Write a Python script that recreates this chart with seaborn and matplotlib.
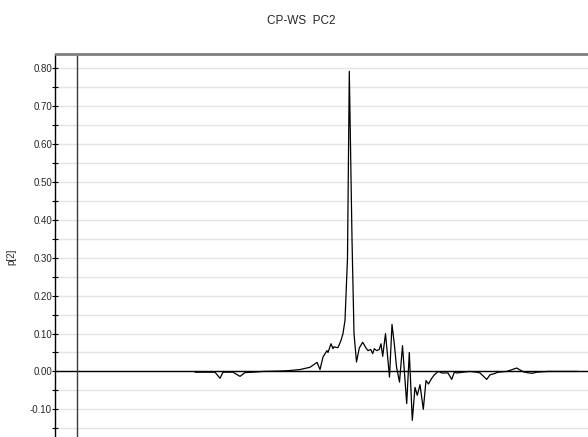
import matplotlib
matplotlib.use("Agg")
import matplotlib.pyplot as plt
import pandas as pd
import seaborn as sns
from matplotlib.ticker import MultipleLocator, FormatStrFormatter

# Loading profile of the second principal component (p[2]) per variable
var_index = [118, 128, 138, 143, 146, 156, 163, 168, 176, 186, 203, 211,
             223, 233, 240, 243, 246, 250, 251, 254, 256, 257, 260, 261,
             264, 266, 268, 270.5, 272.3, 275, 277, 279.5, 282.3, 285.7,
             289, 291, 293.7, 295.7, 297.3, 299.7, 302.3, 304, 305.7, 308.5,
             312.5, 315, 317.3, 319.5, 322.5, 325.5, 329.7, 332.3, 335.3,
             338, 340.3, 343, 346.3, 349, 351.5, 354.5, 357, 359, 361.3,
             365, 371, 374.7, 377.3, 380, 386, 393, 399.7, 403, 409.7,
             413, 417, 421, 429.7, 439.7, 446.3, 449.7, 455.3, 459.7, 465,
             471.3, 478, 486, 493, 501]

p2 = [-0.002, -0.002, -0.002, -0.018, -0.002, -0.002, -0.013, -0.003,
      -0.002, 0.000, 0.001, 0.002, 0.005, 0.011, 0.024, 0.005, 0.038,
      0.055, 0.050, 0.073, 0.060, 0.065, 0.063, 0.063, 0.082, 0.100,
      0.135, 0.300, 0.792, 0.350, 0.100, 0.025, 0.062, 0.077, 0.062,
      0.055, 0.058, 0.047, 0.060, 0.055, 0.058, 0.073, 0.040, 0.100,
      -0.015, 0.124, 0.073, 0.012, -0.028, 0.068, -0.085, 0.050, -0.129,
      -0.042, -0.063, -0.035, -0.100, -0.024, -0.033, -0.019, -0.010,
      -0.005, 0.000, -0.004, -0.004, -0.021, -0.002, -0.004, -0.002,
      0.000, -0.002, -0.004, -0.021, -0.009, -0.006, -0.002, 0.000,
      0.009, -0.001, -0.003, -0.005, -0.002, -0.001, 0.000, 0.000,
      0.000, 0.000, 0.000]

n = min(len(var_index), len(p2))
df = pd.DataFrame({"var": var_index[:n], "p2": p2[:n]})

sns.set_style("white")
plt.rcParams["font.family"] = ["Liberation Sans", "DejaVu Sans"]

W, H = 588, 437
fig = plt.figure(figsize=(W / 100, H / 100), dpi=100)
left_px, top_px = 55.5, 53.5
ax = fig.add_axes([left_px / W, 0, 1 - left_px / W, 1 - top_px / H])

ax.set_axisbelow(True)
ax.grid(which="both", axis="y", color="#e4e4e4", linewidth=1.0)
ax.grid(which="both", axis="x", visible=False)

ax.axhline(0, color="black", linewidth=1.0, zorder=2)
ax.axvline(0, color="#3a3a3a", linewidth=1.0, zorder=2)

sns.lineplot(data=df, x="var", y="p2", ax=ax, color="black",
             linewidth=0.9, sort=False, zorder=3)

ax.set_xlim(-21.5, 511)
ax.set_ylim(-0.173, 0.839)
ax.yaxis.set_major_locator(MultipleLocator(0.1))
ax.yaxis.set_minor_locator(MultipleLocator(0.05))
ax.yaxis.set_major_formatter(FormatStrFormatter("%.2f"))
ax.set_xticks([])
ax.set_xlabel("")

ax.tick_params(axis="y", which="both", direction="inout", length=4,
               width=0.8, left=True, color="black", labelsize=7, pad=0.5)

for side in ("right", "bottom"):
    ax.spines[side].set_visible(False)
ax.spines["left"].set_color("black")
ax.spines["left"].set_linewidth(1.0)
ax.spines["top"].set_color("#808080")
ax.spines["top"].set_linewidth(2.0)

ax.set_ylabel("p[2]", fontsize=7)
ax.yaxis.set_label_coords((16.5 - left_px) / (W - left_px), (H - 257) / (H - top_px))

fig.text(301 / W, 1 - 21.4 / H, "CP-WS  PC2", ha="center", va="center", fontsize=8.5)

fig.savefig("out.png", dpi=100)
